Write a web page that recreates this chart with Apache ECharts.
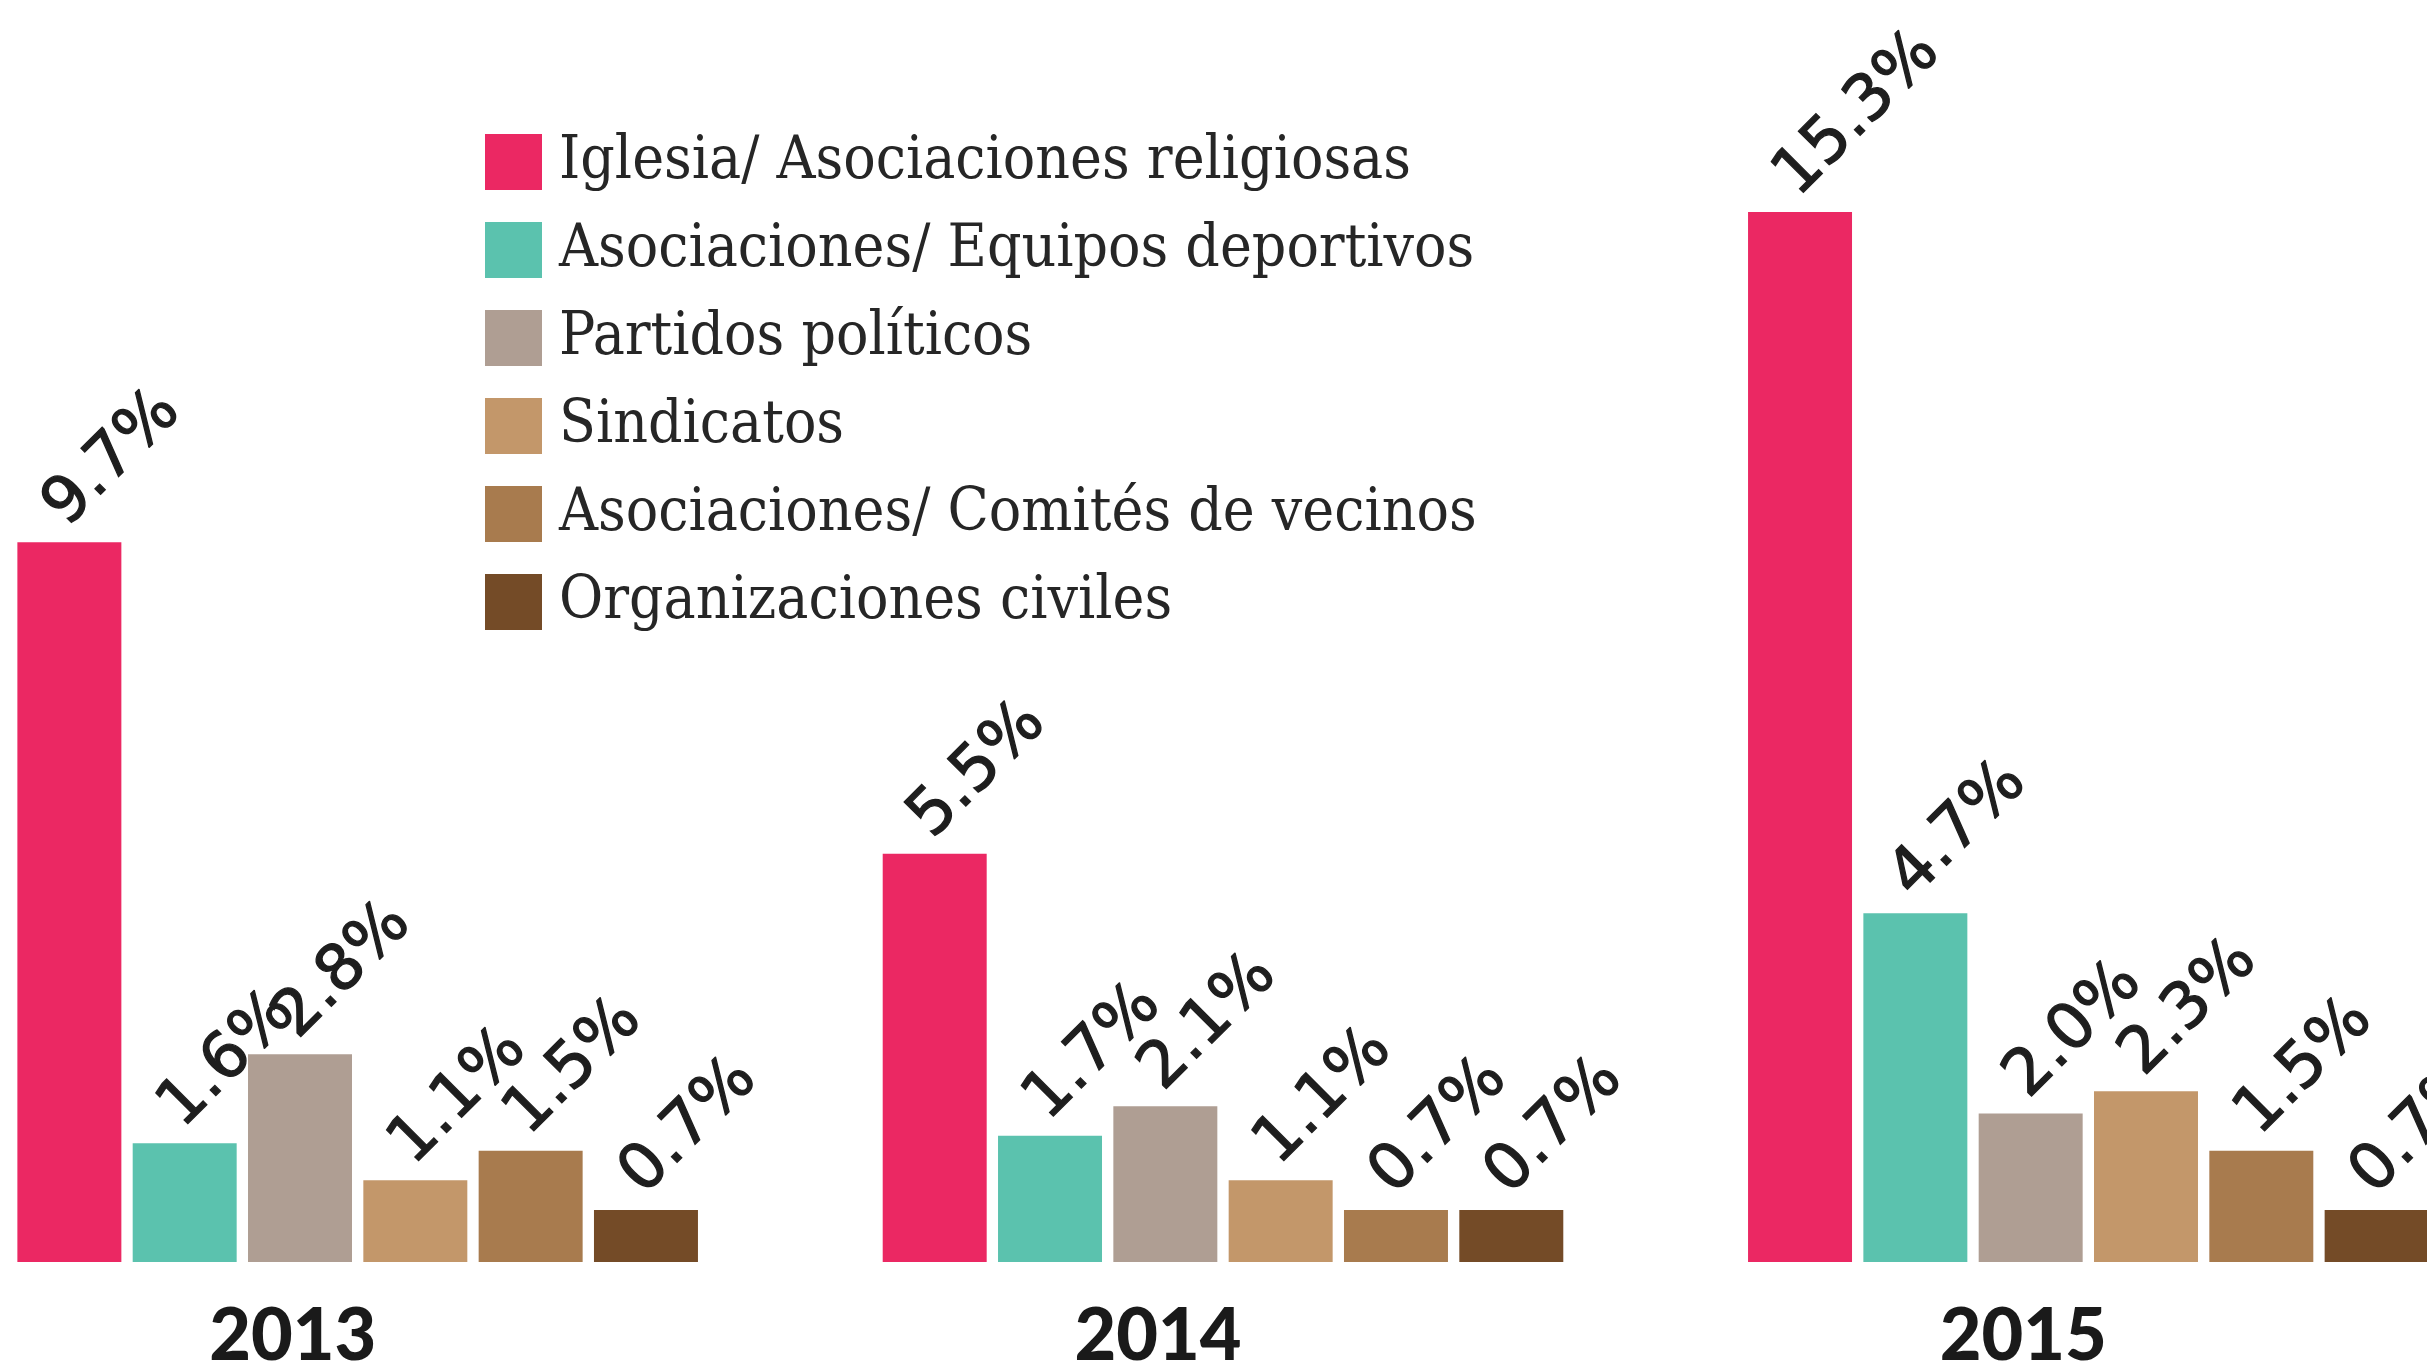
<!DOCTYPE html>
<html>
<head>
<meta charset="utf-8">
<script src="https://cdn.jsdelivr.net/npm/echarts@6/dist/echarts.min.js"></script>
<style>
html,body{margin:0;padding:0;background:#fff;}
#chart{width:2427px;height:1367px;}
</style>
</head>
<body>
<div id="chart"></div>
<script>
// ---- data ----
const years = ['2013', '2014', '2015'];
const seriesNames = [
  'Iglesia/ Asociaciones religiosas',
  'Asociaciones/ Equipos deportivos',
  'Partidos políticos',
  'Sindicatos',
  'Asociaciones/ Comités de vecinos',
  'Organizaciones civiles'
];
const iglesia    = [9.7, 5.5, 15.3];
const deportivos = [1.6, 1.7, 4.7];
const partidos   = [2.8, 2.1, 2.0];
const sindicatos = [1.1, 1.1, 2.3];
const vecinos    = [1.5, 0.7, 1.5];
const civiles    = [0.7, 0.7, 0.7];
const colors = ['#EB2863', '#5BC2AE', '#AF9E93', '#C3976A', '#A87B4E', '#744B27'];

const values = [iglesia, deportivos, partidos, sindicatos, vecinos, civiles];

const chart = echarts.init(document.getElementById('chart'), null, {renderer: 'canvas'});

const series = values.map((arr, i) => ({
  name: seriesNames[i],
  type: 'bar',
  data: arr,
  barGap: '10.9%',
  barCategoryGap: '21.35%',
  clip: true,
  itemStyle: {color: colors[i]},
  label: {
    show: true,
    position: 'top',
    distance: 40,
    offset: [-20, 0],
    rotate: 45,
    align: 'left',
    verticalAlign: 'middle',
    fontFamily: 'DejaVu Sans',
    fontWeight: 'normal',
    fontSize: 64,
    color: '#1e1e1e',
    textBorderColor: '#1e1e1e',
    textBorderWidth: 1.3,
    formatter: p => p.value.toFixed(1) + '%'
  }
}));

chart.setOption({
  animation: false,
  backgroundColor: '#fff',
  color: colors,
  legend: {
    orient: 'vertical',
    left: 480,
    top: 127,
    itemWidth: 57,
    itemHeight: 56,
    itemGap: 28,
    icon: 'rect',
    data: seriesNames,
    textStyle: {
      fontFamily: "'DejaVu Serif Condensed', 'DejaVu Serif', serif",
      fontSize: 60,
      lineHeight: 56,
      color: '#262626',
      padding: [0, 0, 0, 12]
    }
  },
  grid: {
    left: -75,
    width: 2596,
    top: 212,
    bottom: 105,
    containLabel: false,
    outerBoundsMode: 'none'
  },
  xAxis: {
    type: 'category',
    data: years,
    axisLine: {show: false},
    axisTick: {show: false},
    axisLabel: {
      margin: 40,
      fontFamily: 'Lato',
      fontWeight: 900,
      fontSize: 72,
      lineHeight: 70,
      color: '#1a1a1a',
      padding: [0, 130, 0, 0]
    }
  },
  yAxis: {
    type: 'value',
    min: 0,
    max: 14.15,
    show: false,
    splitLine: {show: false}
  },
  series: series
});
</script>
</body>
</html>
